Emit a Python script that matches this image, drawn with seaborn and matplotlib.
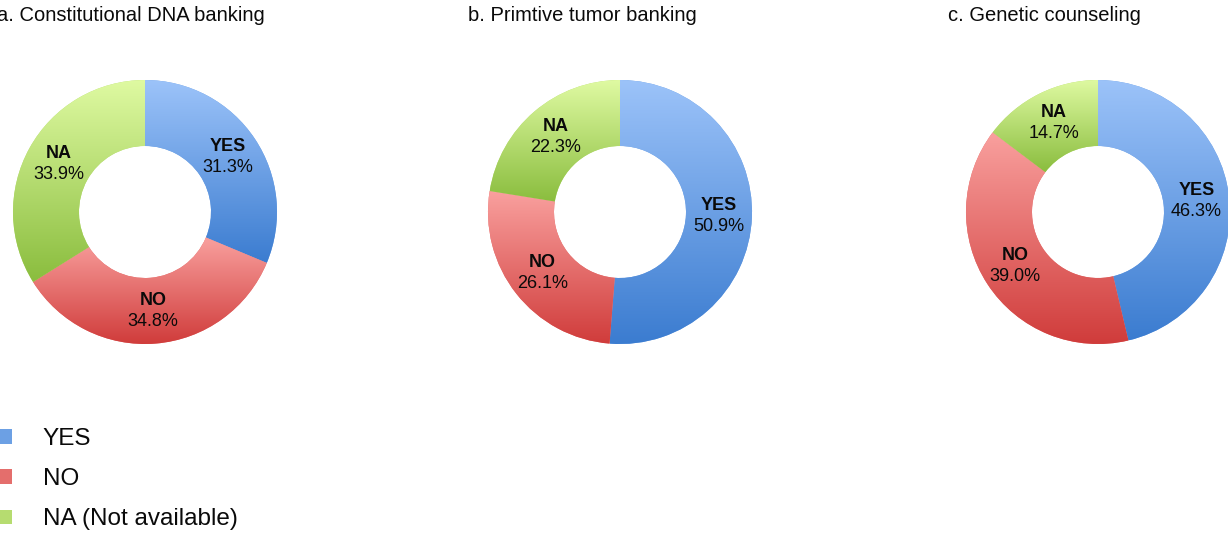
import numpy as np
import matplotlib
matplotlib.use("Agg")
import matplotlib.pyplot as plt
from matplotlib.colors import LinearSegmentedColormap
from matplotlib.patches import Patch
import seaborn as sns

# ------------------------------------------------------------
# Data
# ------------------------------------------------------------
categories = ["YES", "NO", "NA"]
legend_labels = ["YES", "NO", "NA (Not available)"]
titles = ["a. Constitutional DNA banking", "b. Primtive tumor banking", "c. Genetic counseling"]
dna_banking = [31.3, 34.8, 33.9]
tumor_banking = [50.9, 26.1, 22.3]
genetic_counseling = [46.3, 39.0, 14.7]
panels = [dna_banking, tumor_banking, genetic_counseling]

# gradient colours (light top -> dark bottom)
light_cols = ["#9CC3F9", "#F9A09E", "#DFFAA2"]
dark_cols = ["#3B7CD0", "#D03C3B", "#8ABD3E"]
mid_cols = ["#6CA0E4", "#E46E6C", "#B6DC70"]

sns.set_theme(style="white")
plt.rcParams["font.family"] = ["Liberation Sans", "DejaVu Sans"]

W, H = 1228, 536
fig = plt.figure(figsize=(W / 100, H / 100), dpi=100)
ax = fig.add_axes([0, 0, 1, 1])

centers_x = [145, 620, 1098]
center_y = H - 212
outer_r = 132
ring_w = 66
title_x = [-3, 468, 948]

for i, vals in enumerate(panels):
    cx = centers_x[i]
    wedges, _ = ax.pie(vals, colors=mid_cols, startangle=90, counterclock=False,
                       radius=outer_r, center=(cx, center_y),
                       wedgeprops=dict(width=ring_w, linewidth=0))
    for k, w in enumerate(wedges):
        # vertical gradient clipped to the wedge
        bb = w.get_path().get_extents()
        cmap = LinearSegmentedColormap.from_list("g", [dark_cols[k], light_cols[k]])
        grad = np.linspace(0, 1, 256).reshape(-1, 1)
        im = ax.imshow(grad, cmap=cmap, origin="lower", aspect="auto",
                       extent=[bb.x0, bb.x1, bb.y0, bb.y1], zorder=2,
                       interpolation="bilinear")
        im.set_clip_path(w)
        # labels at middle of ring
        ang = np.deg2rad((w.theta1 + w.theta2) / 2)
        r = outer_r - ring_w / 2
        lx = cx + r * np.cos(ang)
        ly = center_y + r * np.sin(ang)
        ax.text(lx, ly + 2, categories[k], ha="center", va="bottom",
                fontsize=13, fontweight="bold", color="#0a0a0a", zorder=3)
        ax.text(lx, ly - 2, f"{vals[k]:.1f}%", ha="center", va="top",
                fontsize=13, color="#0a0a0a", zorder=3)
    ax.text(title_x[i], H - 21, titles[i], ha="left", va="baseline",
            fontsize=14.5, color="#0a0a0a")

handles = [Patch(facecolor=c, edgecolor="none") for c in mid_cols]
ax.legend(handles, legend_labels, loc="upper left", bbox_to_anchor=(-1, H - 428),
          bbox_transform=ax.transData, frameon=False, fontsize=17.5,
          handlelength=0.55, handleheight=0.55, handletextpad=1.25,
          labelspacing=0.75, borderpad=0, borderaxespad=0, labelcolor="#0a0a0a")

ax.set_xlim(0, W)
ax.set_ylim(0, H)
ax.set_aspect("equal")
ax.axis("off")

fig.savefig("out.png", dpi=100)
